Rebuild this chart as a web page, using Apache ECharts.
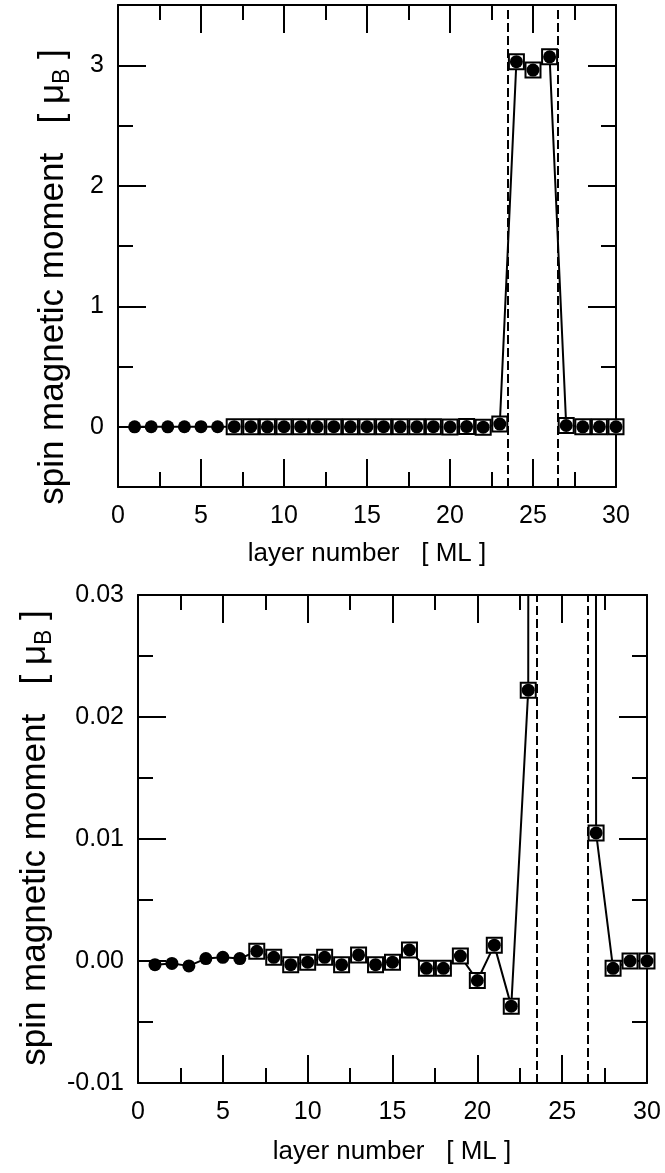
<!DOCTYPE html>
<html>
<head>
<meta charset="utf-8">
<script src="https://cdn.jsdelivr.net/npm/echarts@6/dist/echarts.min.js"></script>
<style>
  html, body { margin: 0; padding: 0; background: #fff; }
  #chart { width: 665px; height: 1173px; }
</style>
</head>
<body>
<div id="chart"></div>
<script>
// Layer-resolved spin magnetic moment (in Bohr magnetons)
const layers = [1, 2, 3, 4, 5, 6, 7, 8, 9, 10, 11, 12, 13, 14, 15,
                16, 17, 18, 19, 20, 21, 22, 23, 24, 25, 26, 27, 28, 29, 30];
const moment = [-0.0003, -0.0002, -0.0004, 0.0002, 0.0003, 0.0002, 0.0008, 0.0003,
                -0.0003, -0.0001, 0.0003, -0.0003, 0.0005, -0.0003, -0.0001, 0.0009,
                -0.0006, -0.0006, 0.0004, -0.0016, 0.0013, -0.0037, 0.0222,
                3.03, 2.96, 3.07, 0.0105, -0.0006, 0.0000, 0.0000];
// layers from this one onward carry an open square around the dot
const boxedFrom = 7;
// interfaces of the magnetic slab
const interfaces = [23.5, 26.5];

// axis ranges and tick positions
const xRange = [0, 30];
const xMajor = [0, 5, 10, 15, 20, 25, 30];
const xMinor = [2.5, 7.5, 12.5, 17.5, 22.5, 27.5];
const topRange = [-0.5, 3.5];
const topMajor = [0, 1, 2, 3];
const topMinor = [0.5, 1.5, 2.5];
const bottomRange = [-0.01, 0.03];
const bottomMajor = [-0.01, 0, 0.01, 0.02, 0.03];
const bottomMinor = [-0.005, 0.005, 0.015, 0.025];

const xTitle = 'layer number   [ ML ]';
const yTitle = '{a|spin magnetic moment   [ \u03BC}{s|B}{a| ]}';

const FONT = '"Liberation Sans", Arial, Helvetica, sans-serif';
const TICK_FONT = 25;
const X_TITLE_FONT = 26;
const Y_TITLE_FONT = 35;

const chart = echarts.init(document.getElementById('chart'), null, { renderer: 'canvas' });

function makeAxis(gridIndex, position, range, ticks, tickLen, withLine, labelFmt) {
  return {
    type: 'value',
    gridIndex: gridIndex,
    position: position,
    min: range[0],
    max: range[1],
    axisLine: { show: withLine, onZero: false, lineStyle: { color: '#000', width: 2 } },
    axisTick: {
      show: true, inside: true, length: tickLen, customValues: ticks,
      lineStyle: { color: '#000', width: 2 }
    },
    axisLabel: labelFmt ? {
      show: true, customValues: ticks, formatter: labelFmt,
      fontSize: TICK_FONT, fontFamily: FONT, color: '#000',
      margin: position === 'bottom' ? 17 : 14,
      showMinLabel: true, showMaxLabel: true
    } : { show: false },
    splitLine: { show: false },
    minorTick: { show: false },
    minorSplitLine: { show: false },
    axisPointer: { show: false }
  };
}

// four sides of a framed panel: major + minor tick axes on each side
function panelAxes(gridIndex, yRange, yMajor, yMinor, yFmt) {
  const xFmt = v => String(v);
  return {
    x: [
      makeAxis(gridIndex, 'bottom', xRange, xMajor, 28, true, xFmt),
      makeAxis(gridIndex, 'bottom', xRange, xMinor, 15, false, null),
      makeAxis(gridIndex, 'top', xRange, xMajor, 28, true, null),
      makeAxis(gridIndex, 'top', xRange, xMinor, 15, false, null)
    ],
    y: [
      makeAxis(gridIndex, 'left', yRange, yMajor, 28, true, yFmt),
      makeAxis(gridIndex, 'left', yRange, yMinor, 15, false, null),
      makeAxis(gridIndex, 'right', yRange, yMajor, 28, true, null),
      makeAxis(gridIndex, 'right', yRange, yMinor, 15, false, null)
    ]
  };
}

const points = layers.map((l, i) => [l, moment[i]]);
const boxed = points.filter(p => p[0] >= boxedFrom);

function panelSeries(axisIndex) {
  return [
    {
      type: 'line',
      xAxisIndex: axisIndex, yAxisIndex: axisIndex,
      data: points,
      showSymbol: false,
      clip: true,
      lineStyle: { color: '#000', width: 2 },
      z: 2,
      markLine: {
        silent: true,
        symbol: ['none', 'none'],
        label: { show: false },
        lineStyle: { color: '#000', width: 2, type: [9, 4], opacity: 1 },
        data: interfaces.map(v => ({ xAxis: v })),
        animation: false
      }
    },
    {
      type: 'scatter',
      xAxisIndex: axisIndex, yAxisIndex: axisIndex,
      data: boxed,
      symbol: 'rect',
      symbolSize: 15,
      clip: true,
      itemStyle: { color: '#fff', borderColor: '#000', borderWidth: 2, opacity: 1 },
      z: 3
    },
    {
      type: 'scatter',
      xAxisIndex: axisIndex, yAxisIndex: axisIndex,
      data: points,
      symbol: 'circle',
      symbolSize: 13,
      clip: true,
      itemStyle: { color: '#000', opacity: 1 },
      z: 4
    }
  ];
}

const topAxes = panelAxes(0, topRange, topMajor, topMinor, v => String(v));
const bottomAxes = panelAxes(1, bottomRange, bottomMajor, bottomMinor, v => v.toFixed(2));

const richY = {
  a: { fontSize: Y_TITLE_FONT, fontFamily: FONT, color: '#000', lineHeight: 42 },
  s: { fontSize: 23, fontFamily: FONT, color: '#000', lineHeight: 23, verticalAlign: 'bottom' }
};

const option = {
  animation: false,
  backgroundColor: '#fff',
  grid: [
    { left: 118, top: 5, width: 498, height: 482, outerBoundsMode: 'none' },
    { left: 138, top: 595, width: 509, height: 488, outerBoundsMode: 'none' }
  ],
  xAxis: topAxes.x.concat(bottomAxes.x),
  yAxis: topAxes.y.concat(bottomAxes.y),
  series: panelSeries(0).concat(panelSeries(4)),
  graphic: [
    {
      type: 'text', x: 367, y: 554, silent: true,
      style: { text: xTitle, fontSize: X_TITLE_FONT, fontFamily: FONT, fill: '#000', align: 'center', verticalAlign: 'middle' }
    },
    {
      type: 'text', x: 392, y: 1152, silent: true,
      style: { text: xTitle, fontSize: X_TITLE_FONT, fontFamily: FONT, fill: '#000', align: 'center', verticalAlign: 'middle' }
    },
    {
      type: 'text', x: 53, y: 277, rotation: Math.PI / 2, silent: true,
      style: { text: yTitle, rich: richY, align: 'center', verticalAlign: 'middle' }
    },
    {
      type: 'text', x: 35, y: 838, rotation: Math.PI / 2, silent: true,
      style: { text: yTitle, rich: richY, align: 'center', verticalAlign: 'middle' }
    }
  ]
};

chart.setOption(option);
</script>
</body>
</html>
